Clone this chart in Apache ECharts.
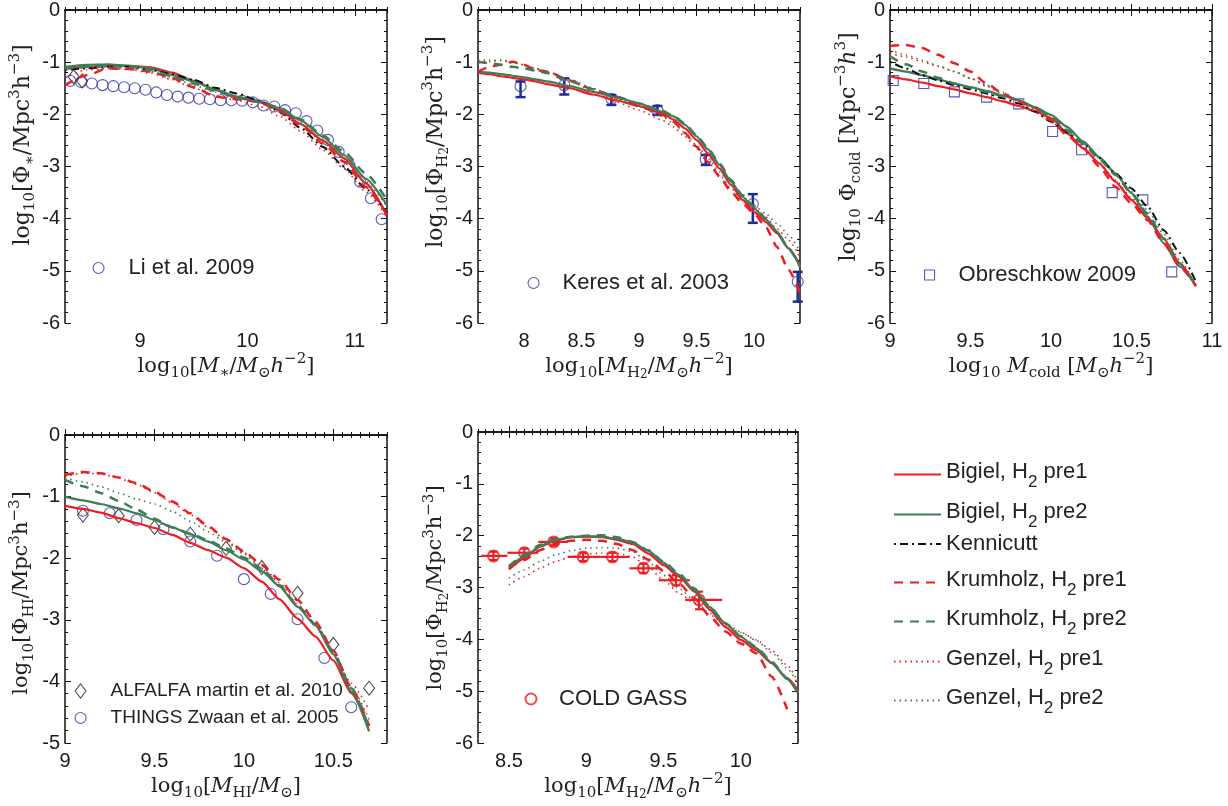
<!DOCTYPE html>
<html><head><meta charset="utf-8">
<script src="https://cdn.jsdelivr.net/npm/echarts@6/dist/echarts.min.js"></script>
<style>html,body{margin:0;padding:0;background:#fff}#c{width:1228px;height:806px}</style>
</head><body><div id="c"></div><script>
// ---------------- data ----------------
const MODEL_NAMES = ['Bigiel, H2 pre1','Bigiel, H2 pre2','Kennicutt','Krumholz, H2 pre1','Krumholz, H2 pre2','Genzel, H2 pre1','Genzel, H2 pre2'];

// Panel 1: stellar mass function
const P1_X = [8.3, 8.5, 8.7, 8.9, 9.1, 9.3, 9.5, 9.7, 9.9, 10.1, 10.3, 10.5, 10.7, 10.9, 11.1, 11.3];
const P1_BIGIEL1 = [-1.12, -1.09, -1.07, -1.07, -1.10, -1.20, -1.36, -1.53, -1.68, -1.76, -1.92, -2.19, -2.50, -2.84, -3.32, -3.93];
const P1_BIGIEL2 = [-1.09, -1.05, -1.04, -1.07, -1.12, -1.25, -1.37, -1.52, -1.66, -1.74, -1.88, -2.12, -2.43, -2.78, -3.23, -3.74];
const P1_KENN    = [-1.15, -1.12, -1.09, -1.09, -1.15, -1.23, -1.34, -1.49, -1.60, -1.73, -1.95, -2.27, -2.62, -3.00, -3.42, -3.90];
const P1_KRUM1   = [-1.44, -1.25, -1.12, -1.13, -1.18, -1.31, -1.48, -1.66, -1.71, -1.76, -1.94, -2.22, -2.56, -2.91, -3.39, -3.93];
const P1_KRUM2   = [-1.12, -1.09, -1.07, -1.09, -1.15, -1.27, -1.41, -1.55, -1.68, -1.76, -1.87, -2.10, -2.40, -2.72, -3.13, -3.64];
const P1_GENZ1   = [-1.28, -1.15, -1.12, -1.14, -1.21, -1.34, -1.50, -1.65, -1.73, -1.84, -2.04, -2.33, -2.68, -3.04, -3.48, -3.96];
const P1_GENZ2   = [-1.12, -1.10, -1.09, -1.11, -1.18, -1.29, -1.44, -1.58, -1.69, -1.78, -1.93, -2.20, -2.52, -2.86, -3.29, -3.77];
const LI_X = [8.35, 8.45, 8.55, 8.65, 8.75, 8.85, 8.95, 9.05, 9.15, 9.25, 9.35, 9.45, 9.55, 9.65, 9.75, 9.85, 9.95, 10.05, 10.15, 10.25, 10.35, 10.45, 10.55, 10.65, 10.75, 10.85, 10.95, 11.05, 11.15, 11.25];
const LI_Y = [-1.36, -1.38, -1.41, -1.44, -1.46, -1.48, -1.50, -1.53, -1.58, -1.63, -1.66, -1.68, -1.70, -1.71, -1.73, -1.73, -1.74, -1.77, -1.83, -1.85, -1.92, -1.98, -2.13, -2.31, -2.49, -2.72, -2.98, -3.29, -3.61, -4.01];
const P1_DIAM_X = [8.38, 8.46];
const P1_DIAM_Y = [-1.28, -1.36];

// Panel 2: H2 mass function (Keres)
const P2_X = [7.6, 7.7, 7.8, 7.9, 8.0, 8.1, 8.2, 8.4, 8.6, 8.8, 9.0, 9.2, 9.3, 9.4, 9.5, 9.6, 9.7, 9.8, 9.9, 10.0, 10.1, 10.2, 10.3, 10.4];
const P2_BIGIEL1 = [-1.20, -1.23, -1.27, -1.30, -1.33, -1.37, -1.42, -1.50, -1.62, -1.73, -1.84, -1.98, -2.10, -2.27, -2.49, -2.75, -3.04, -3.35, -3.64, -3.87, -4.06, -4.28, -4.57, -4.89];
const P2_BIGIEL2 = [-1.18, -1.20, -1.23, -1.26, -1.29, -1.33, -1.37, -1.46, -1.57, -1.67, -1.79, -1.95, -2.04, -2.20, -2.42, -2.67, -2.97, -3.29, -3.58, -3.80, -4.01, -4.25, -4.57, -4.92];
const P2_KRUM1   = [-1.18, -1.09, -1.05, -0.99, -1.05, -1.15, -1.18, -1.35, -1.52, -1.67, -1.84, -2.01, -2.14, -2.36, -2.62, -2.91, -3.19, -3.48, -3.71, -3.90, -4.15, -4.54, -4.98, -5.43];
const P2_KRUM2   = [-0.99, -1.02, -1.05, -1.09, -1.12, -1.16, -1.21, -1.37, -1.52, -1.66, -1.79, -1.93, -2.03, -2.18, -2.40, -2.65, -2.94, -3.26, -3.55, -3.77, -3.99, -4.25, -4.57, -4.92];
const P2_GENZ1   = [-1.02, -0.99, -0.96, -0.99, -1.05, -1.12, -1.18, -1.34, -1.57, -1.76, -1.92, -2.11, -2.24, -2.43, -2.65, -2.91, -3.16, -3.42, -3.64, -3.80, -3.96, -4.19, -4.41, -4.73];
const P2_GENZ2   = [-0.96, -0.96, -0.97, -1.01, -1.05, -1.12, -1.18, -1.33, -1.50, -1.69, -1.85, -2.04, -2.17, -2.36, -2.59, -2.84, -3.10, -3.35, -3.58, -3.74, -3.90, -4.09, -4.31, -4.63];
const KERES_X  = [7.97, 8.35, 8.76, 9.16, 9.58, 9.99, 10.38];
const KERES_Y  = [-1.46, -1.44, -1.70, -1.92, -2.86, -3.72, -5.21];
const KERES_LO = [-1.67, -1.62, -1.82, -2.01, -2.97, -4.08, -5.59];
const KERES_HI = [-1.37, -1.31, -1.63, -1.84, -2.78, -3.53, -5.02];

// Panel 3: cold gas mass function
const P3_X = [9.0, 9.1, 9.2, 9.3, 9.4, 9.5, 9.6, 9.7, 9.8, 9.9, 10.0, 10.1, 10.2, 10.3, 10.4, 10.5, 10.6, 10.7, 10.8, 10.9];
const P3_BIGIEL1 = [-1.27, -1.33, -1.39, -1.46, -1.52, -1.60, -1.67, -1.75, -1.84, -1.94, -2.07, -2.36, -2.65, -2.94, -3.29, -3.64, -3.99, -4.38, -4.86, -5.29];
const P3_BIGIEL2 = [-1.12, -1.18, -1.25, -1.33, -1.41, -1.48, -1.55, -1.64, -1.73, -1.86, -2.01, -2.24, -2.52, -2.82, -3.13, -3.51, -3.96, -4.47, -4.92, -5.29];
const P3_KENN    = [-0.99, -1.12, -1.25, -1.35, -1.44, -1.52, -1.60, -1.69, -1.79, -1.95, -2.14, -2.35, -2.56, -2.84, -3.13, -3.42, -3.77, -4.22, -4.66, -5.21];
const P3_KRUM1   = [-0.69, -0.67, -0.73, -0.86, -1.02, -1.18, -1.41, -1.60, -1.76, -1.88, -2.11, -2.40, -2.65, -3.00, -3.39, -3.71, -4.03, -4.47, -4.92, -5.29];
const P3_KRUM2   = [-0.89, -1.04, -1.18, -1.30, -1.41, -1.49, -1.57, -1.65, -1.73, -1.87, -2.04, -2.30, -2.56, -2.86, -3.16, -3.52, -3.90, -4.38, -4.86, -5.29];
const P3_GENZ1   = [-0.83, -0.90, -0.99, -1.08, -1.18, -1.31, -1.46, -1.61, -1.76, -1.94, -2.14, -2.38, -2.62, -2.94, -3.26, -3.60, -3.96, -4.40, -4.86, -5.29];
const P3_GENZ2   = [-0.77, -0.86, -0.96, -1.07, -1.18, -1.31, -1.44, -1.58, -1.73, -1.90, -2.08, -2.32, -2.56, -2.84, -3.13, -3.48, -3.83, -4.30, -4.79, -5.29];
const OBRESCH_X = [9.02, 9.21, 9.40, 9.60, 9.80, 10.01, 10.19, 10.38, 10.57, 10.75];
const OBRESCH_Y = [-1.35, -1.41, -1.57, -1.67, -1.80, -2.33, -2.68, -3.50, -3.64, -5.02];

// Panel 4: HI mass function
const P4_X = [9.0, 9.1, 9.2, 9.3, 9.4, 9.5, 9.6, 9.7, 9.8, 9.9, 10.0, 10.1, 10.2, 10.3, 10.4, 10.5, 10.6, 10.7];
const P4_BIGIEL1 = [-1.15, -1.20, -1.26, -1.35, -1.43, -1.51, -1.62, -1.75, -1.87, -1.99, -2.16, -2.38, -2.67, -2.98, -3.27, -3.66, -4.19, -4.73];
const P4_BIGIEL2 = [-1.00, -1.06, -1.12, -1.19, -1.27, -1.38, -1.50, -1.61, -1.73, -1.87, -2.02, -2.21, -2.46, -2.79, -3.09, -3.56, -4.16, -4.81];
const P4_KRUM1   = [-0.65, -0.60, -0.62, -0.69, -0.78, -0.92, -1.08, -1.27, -1.48, -1.69, -1.89, -2.11, -2.35, -2.68, -3.03, -3.50, -4.10, -4.72];
const P4_KRUM2   = [-0.73, -0.83, -0.94, -1.07, -1.21, -1.36, -1.50, -1.60, -1.71, -1.84, -1.99, -2.17, -2.44, -2.77, -3.07, -3.52, -4.11, -4.76];
const P4_GENZ1   = [-0.67, -0.62, -0.63, -0.70, -0.80, -0.94, -1.10, -1.29, -1.50, -1.71, -1.91, -2.13, -2.40, -2.75, -3.10, -3.55, -4.03, -4.46];
const P4_GENZ2   = [-0.70, -0.76, -0.84, -0.94, -1.04, -1.12, -1.24, -1.40, -1.57, -1.74, -1.93, -2.17, -2.45, -2.78, -3.08, -3.52, -4.08, -4.62];
const ALFALFA_X = [9.1, 9.3, 9.5, 9.7, 9.9, 10.1, 10.3, 10.5, 10.7];
const ALFALFA_Y = [-1.30, -1.31, -1.50, -1.61, -1.84, -2.15, -2.57, -3.40, -4.11];
const THINGS_X = [9.1, 9.25, 9.4, 9.55, 9.7, 9.85, 10.0, 10.15, 10.3, 10.45, 10.6];
const THINGS_Y = [-1.23, -1.27, -1.38, -1.53, -1.73, -1.96, -2.34, -2.58, -2.99, -3.62, -4.42];

// Panel 5: H2 mass function (COLD GASS)
const P5_X = [8.5, 8.6, 8.7, 8.8, 8.9, 9.0, 9.1, 9.2, 9.3, 9.4, 9.5, 9.6, 9.7, 9.8, 9.9, 10.0, 10.1, 10.2, 10.3, 10.37];
const P5_BIGIEL1 = [-2.65, -2.44, -2.21, -2.10, -2.03, -2.02, -2.03, -2.08, -2.16, -2.34, -2.57, -2.79, -3.08, -3.43, -3.76, -4.01, -4.21, -4.46, -4.75, -4.98];
const P5_BIGIEL2 = [-2.60, -2.41, -2.20, -2.08, -2.03, -2.01, -2.02, -2.06, -2.13, -2.29, -2.52, -2.76, -3.05, -3.38, -3.69, -3.95, -4.17, -4.45, -4.77, -5.04];
const P5_KRUM1   = [-2.63, -2.47, -2.28, -2.16, -2.10, -2.08, -2.10, -2.16, -2.28, -2.46, -2.68, -2.92, -3.21, -3.56, -3.85, -4.08, -4.27, -4.72, -5.35, null];
const P5_KRUM2   = [-2.59, -2.37, -2.18, -2.07, -2.02, -2.00, -1.99, -2.03, -2.12, -2.28, -2.50, -2.73, -3.02, -3.37, -3.69, -3.94, -4.15, -4.43, -4.75, -5.03];
const P5_GENZ1   = [-2.95, -2.79, -2.63, -2.50, -2.41, -2.35, -2.34, -2.34, -2.41, -2.60, -2.86, -3.11, -3.30, -3.53, -3.72, -3.87, -4.01, -4.21, -4.50, -4.82];
const P5_GENZ2   = [-2.82, -2.66, -2.50, -2.37, -2.29, -2.24, -2.23, -2.24, -2.31, -2.50, -2.76, -3.02, -3.25, -3.50, -3.70, -3.86, -4.02, -4.25, -4.56, -4.86];
const CG_X   = [8.40, 8.60, 8.79, 8.98, 9.17, 9.37, 9.58, 9.73];
const CG_Y   = [-2.39, -2.33, -2.12, -2.41, -2.41, -2.63, -2.86, -3.24];
const CG_XLO = [8.32, 8.49, 8.69, 8.88, 9.09, 9.28, 9.47, 9.64];
const CG_XHI = [8.49, 8.69, 8.88, 9.09, 9.28, 9.47, 9.67, 9.88];
const CG_YLO = [-2.47, -2.41, -2.19, -2.49, -2.49, -2.72, -2.96, -3.42];
const CG_YHI = [-2.31, -2.25, -2.05, -2.33, -2.33, -2.54, -2.76, -3.08];

// tick labels
const P1_XTICKS = [9, 10, 11];
const P2_XTICKS = [8, 8.5, 9, 9.5, 10];
const P3_XTICKS = [9, 9.5, 10, 10.5, 11];
const P4_XTICKS = [9, 9.5, 10, 10.5];
const P5_XTICKS = [8.5, 9, 9.5, 10];

// ---------------- styling / layout ----------------
const SANS = 'Liberation Sans, Arial, Helvetica, sans-serif';
const SERIF = 'DejaVu Serif, Liberation Serif, serif';
const RED = '#ee1d23', GREEN = '#3f7c57', BLACK = '#111111', BLUE = '#2f2fa6';
const MODEL_STYLES = [
  {color: RED, width: 2.2, type: 'solid'},
  {color: GREEN, width: 2.2, type: 'solid'},
  {color: BLACK, width: 2, type: [2, 4, 8, 4]},
  {color: RED, width: 2.5, type: [9, 7]},
  {color: GREEN, width: 2.5, type: [9, 7]},
  {color: RED, width: 1.6, type: [1.5, 4]},
  {color: GREEN, width: 1.6, type: [1.5, 4]}
];

function mkRich(fs, key) {
  const sf = Math.round(fs * 0.7), c = '#222';
  const base = {fontFamily: SERIF};
  const col = {}; col[key] = c;
  return {
    n: Object.assign({fontSize: fs, lineHeight: fs + 8}, base, col),
    i: Object.assign({fontSize: fs, fontStyle: 'italic', lineHeight: fs + 8}, base, col),
    s: Object.assign({fontSize: sf, verticalAlign: 'bottom', lineHeight: sf}, base, col),
    ss: Object.assign({fontSize: Math.round(fs * 0.55), verticalAlign: 'bottom', lineHeight: 6}, base, col),
    p: Object.assign({fontSize: sf, verticalAlign: 'top', lineHeight: sf}, base, col)
  };
}
const XN_STAR = '{n|log}{s|10}{n|[}{i|M}{s|∗}{n|/}{i|M}{s|⊙}{i|h}{p|−2}{n|]}';
const YN_STAR = '{n|log}{s|10}{n|[Φ}{s|∗}{n|/Mpc}{p|3}{n|h}{p|−3}{n|]}';
const XN_H2 = '{n|log}{s|10}{n|[}{i|M}{s|H}{ss|2}{n|/}{i|M}{s|⊙}{i|h}{p|−2}{n|]}';
const YN_H2 = '{n|log}{s|10}{n|[Φ}{s|H}{ss|2}{n|/Mpc}{p|3}{n|h}{p|−3}{n|]}';
const XN_COLD = '{n|log}{s|10}{i| M}{s|cold}{n| [}{i|M}{s|⊙}{i|h}{p|−2}{n|]}';
const YN_COLD = '{n|log}{s|10}{n| Φ}{s|cold}{n| [Mpc}{p|−3}{i|h}{p|3}{n|]}';
const XN_HI = '{n|log}{s|10}{n|[}{i|M}{s|HI}{n|/}{i|M}{s|⊙}{n|]}';
const YN_HI = '{n|log}{s|10}{n|[Φ}{s|HI}{n|/Mpc}{p|3}{n|h}{p|−3}{n|]}';

function steps(a, b, s) {
  const out = []; const n = Math.round((b - a) / s);
  for (let k = 0; k <= n; k++) out.push(+(a + k * s).toFixed(4));
  return out;
}

const PANELS = [
  {grid: {left: 65, top: 10, width: 322, height: 313}, xMin: 8.3, xMax: 11.3, xTicks: P1_XTICKS, xMinor: 0.1, yMin: -6,
   xName: XN_STAR, yName: YN_STAR, yNamePos: [23, 145], yFs: 22, x: P1_X,
   models: [P1_BIGIEL1, P1_BIGIEL2, P1_KENN, P1_KRUM1, P1_KRUM2, P1_GENZ1, P1_GENZ2]},
  {grid: {left: 478, top: 10, width: 322, height: 313}, xMin: 7.6, xMax: 10.4, xTicks: P2_XTICKS, xMinor: 0.1, yMin: -6,
   xName: XN_H2, yName: YN_H2, yNamePos: [436, 142], yFs: 22, x: P2_X,
   models: [P2_BIGIEL1, P2_BIGIEL2, null, P2_KRUM1, P2_KRUM2, P2_GENZ1, P2_GENZ2]},
  {grid: {left: 890, top: 10, width: 322, height: 313}, xMin: 9, xMax: 11, xTicks: P3_XTICKS, xMinor: 0.05, yMin: -6,
   xName: XN_COLD, yName: YN_COLD, yNamePos: [849, 147], yFs: 22, x: P3_X,
   models: [P3_BIGIEL1, P3_BIGIEL2, P3_KENN, P3_KRUM1, P3_KRUM2, P3_GENZ1, P3_GENZ2]},
  {grid: {left: 65, top: 435, width: 322, height: 308}, xMin: 9, xMax: 10.8, xTicks: P4_XTICKS, xMinor: 0.05, yMin: -5,
   xName: XN_HI, yName: YN_HI, yNamePos: [22, 593], yFs: 21, x: P4_X,
   models: [P4_BIGIEL1, P4_BIGIEL2, null, P4_KRUM1, P4_KRUM2, P4_GENZ1, P4_GENZ2]},
  {grid: {left: 478, top: 432, width: 320, height: 311}, xMin: 8.3, xMax: 10.37, xTicks: P5_XTICKS, xMinor: 0.05, yMin: -6,
   xName: XN_H2, yName: YN_H2, yNamePos: [436, 588], yFs: 21, x: P5_X,
   models: [P5_BIGIEL1, P5_BIGIEL2, null, P5_KRUM1, P5_KRUM2, P5_GENZ1, P5_GENZ2]}
];

const grids = [], xAxes = [], yAxes = [], series = [], graphics = [];
const AXIS_LINE = {show: true, lineStyle: {color: '#111', width: 1.5}};
const LABEL = {color: '#1a1a1a', fontFamily: SANS, fontSize: 20};
const X_RICH = mkRich(21, 'color');

PANELS.forEach((P, p) => {
  grids.push(Object.assign({containLabel: false}, P.grid));
  xAxes.push({type: 'value', gridIndex: p, position: 'bottom', min: P.xMin, max: P.xMax,
    axisLine: AXIS_LINE, splitLine: {show: false},
    axisTick: {inside: true, length: 6, customValues: P.xTicks, lineStyle: {color: '#111', width: 1}},
    axisLabel: Object.assign({customValues: P.xTicks, margin: 8}, LABEL),
    name: P.xName, nameLocation: 'middle', nameGap: 29, nameTextStyle: {rich: X_RICH}});
  xAxes.push({type: 'value', gridIndex: p, position: 'top', min: P.xMin, max: P.xMax,
    axisLine: AXIS_LINE, splitLine: {show: false},
    axisTick: {inside: true, length: 6, customValues: P.xTicks, lineStyle: {color: '#111', width: 1}},
    axisLabel: {show: false}});
  const yCommon = {type: 'value', gridIndex: p, min: P.yMin, max: 0, interval: 1,
    axisLine: AXIS_LINE, splitLine: {show: false},
    axisTick: {inside: true, length: 6, lineStyle: {color: '#111', width: 1}},
    minorTick: {show: true, splitNumber: 5, length: 3, lineStyle: {color: '#111', width: 1}},
    minorSplitLine: {show: false}};
  yAxes.push(Object.assign({}, yCommon, {position: 'left', axisLabel: Object.assign({margin: 5}, LABEL)}));
  yAxes.push(Object.assign({}, yCommon, {position: 'right', axisLabel: {show: false}}));

  // y-axis title as rotated text
  graphics.push({type: 'text', x: P.yNamePos[0], y: P.yNamePos[1], rotation: Math.PI / 2, silent: true,
    style: {text: P.yName, rich: mkRich(P.yFs, 'fill'), align: 'center', verticalAlign: 'middle', fill: '#222'}});

  P.models.forEach((ys, k) => {
    if (!ys) return;
    const st = MODEL_STYLES[k];
    series.push({type: 'line', name: MODEL_NAMES[k], xAxisIndex: 2 * p, yAxisIndex: 2 * p,
      data: P.x.map((v, i) => [v, ys[i]]), symbol: 'none', showSymbol: false,
      smooth: 0.2, smoothMonotone: 'x', silent: true,
      lineStyle: {color: st.color, width: st.width, type: st.type}, itemStyle: {color: st.color}});
  });
});
// overlay grids carrying the minor x ticks
PANELS.forEach((P, p) => {
  grids.push(Object.assign({containLabel: false}, P.grid));
  const gi = PANELS.length + p;
  const minors = steps(P.xMin, P.xMax, P.xMinor);
  ['bottom', 'top'].forEach(pos => xAxes.push({type: 'value', gridIndex: gi, position: pos, min: P.xMin, max: P.xMax,
    axisLine: {show: false}, splitLine: {show: false}, axisLabel: {show: false},
    axisTick: {inside: true, length: 3, customValues: minors, lineStyle: {color: '#111', width: 1}}}));
  yAxes.push({type: 'value', gridIndex: gi, min: P.yMin, max: 0, show: false});
});

function xy(xs, ys) { return xs.map((v, i) => [v, ys[i]]); }
const hollow = (c, w) => ({color: 'transparent', borderColor: c, borderWidth: w});

// panel 1 observations
series.push({type: 'scatter', name: 'p1diamonds', xAxisIndex: 0, yAxisIndex: 0, data: xy(P1_DIAM_X, P1_DIAM_Y),
  symbol: 'diamond', symbolSize: [11, 14], itemStyle: hollow('#222', 1.1), silent: true});
series.push({type: 'scatter', name: 'Li et al. 2009', xAxisIndex: 0, yAxisIndex: 0, data: xy(LI_X, LI_Y),
  symbol: 'circle', symbolSize: 11, itemStyle: hollow(BLUE, 1.1), silent: true});
// panel 2
series.push({type: 'custom', xAxisIndex: 2, yAxisIndex: 2, silent: true,
  data: KERES_X.map((x, i) => [x, KERES_Y[i], KERES_LO[i], KERES_HI[i]]), encode: {x: 0, y: [1, 2, 3]},
  renderItem: function (params, api) {
    const x = api.value(0), a = api.coord([x, api.value(2)]), b = api.coord([x, api.value(3)]);
    const st = {stroke: '#1f2b95', lineWidth: 2.5}; const c = 5;
    return {type: 'group', children: [
      {type: 'line', shape: {x1: a[0], y1: a[1], x2: b[0], y2: b[1]}, style: st},
      {type: 'line', shape: {x1: a[0] - c, y1: a[1], x2: a[0] + c, y2: a[1]}, style: st},
      {type: 'line', shape: {x1: b[0] - c, y1: b[1], x2: b[0] + c, y2: b[1]}, style: st}]};
  }});
series.push({type: 'scatter', name: 'Keres et al. 2003', xAxisIndex: 2, yAxisIndex: 2, data: xy(KERES_X, KERES_Y),
  symbol: 'circle', symbolSize: 11, itemStyle: hollow(BLUE, 1.1), silent: true});
// panel 3
series.push({type: 'scatter', name: 'Obreschkow 2009', xAxisIndex: 4, yAxisIndex: 4, data: xy(OBRESCH_X, OBRESCH_Y),
  symbol: 'rect', symbolSize: 10, itemStyle: hollow(BLUE, 1.1), silent: true});
// panel 4
series.push({type: 'scatter', name: 'ALFALFA martin et al. 2010', xAxisIndex: 6, yAxisIndex: 6, data: xy(ALFALFA_X, ALFALFA_Y),
  symbol: 'diamond', symbolSize: [11, 14], itemStyle: hollow('#222', 1.1), silent: true});
series.push({type: 'scatter', name: 'THINGS Zwaan et al. 2005', xAxisIndex: 6, yAxisIndex: 6, data: xy(THINGS_X, THINGS_Y),
  symbol: 'circle', symbolSize: 11, itemStyle: hollow(BLUE, 1.1), silent: true});
// panel 5
series.push({type: 'custom', xAxisIndex: 8, yAxisIndex: 8, silent: true,
  data: CG_X.map((x, i) => [x, CG_Y[i], CG_XLO[i], CG_XHI[i], CG_YLO[i], CG_YHI[i]]), encode: {x: [0, 2, 3], y: [1, 4, 5]},
  renderItem: function (params, api) {
    const x = api.value(0), y = api.value(1);
    const l = api.coord([api.value(2), y]), r = api.coord([api.value(3), y]);
    const lo = api.coord([x, api.value(4)]), hi = api.coord([x, api.value(5)]);
    const st = {stroke: RED, lineWidth: 2.2}; const c = 4;
    return {type: 'group', children: [
      {type: 'line', shape: {x1: l[0], y1: l[1], x2: r[0], y2: r[1]}, style: st},
      {type: 'line', shape: {x1: lo[0], y1: lo[1], x2: hi[0], y2: hi[1]}, style: st},
      {type: 'line', shape: {x1: lo[0] - c, y1: lo[1], x2: lo[0] + c, y2: lo[1]}, style: st},
      {type: 'line', shape: {x1: hi[0] - c, y1: hi[1], x2: hi[0] + c, y2: hi[1]}, style: st}]};
  }});
series.push({type: 'scatter', name: 'COLD GASS', xAxisIndex: 8, yAxisIndex: 8, data: xy(CG_X, CG_Y),
  symbol: 'circle', symbolSize: 11, itemStyle: hollow(RED, 2), silent: true});

// ---------------- legends ----------------
const legends = [];
const MAIN_LEG_Y = [471, 511, 546, 579, 618, 658, 697];
MODEL_NAMES.forEach((nm, k) => {
  legends.push({data: [nm], left: 893, top: MAIN_LEG_Y[k] - 13, padding: 0, itemWidth: 47, itemHeight: 14,
    selectedMode: false, itemStyle: {opacity: 0},
    formatter: n => n.indexOf('H2') >= 0 ? '{a|' + n.replace('H2', 'H}{b|2}{a|') + '}' : '{k|' + n + '}',
    textStyle: {rich: {
      a: {fontFamily: SANS, fontSize: 22, lineHeight: 26, padding: [0, 0, 6, 0], color: '#222'},
      b: {fontFamily: SANS, fontSize: 17, lineHeight: 26, padding: [16, 0, 0, 0], color: '#222'},
      k: {fontFamily: SANS, fontSize: 22, lineHeight: 26, color: '#222'}}}});
});
function obsLegend(name, cx, cy, textLeft, fontSize, bw, iw, ih) {
  const lh = fontSize + 2;
  const left = cx - iw / 2;
  const pad = textLeft - (left + iw + 5);
  return {data: [name], left: left, top: cy - Math.max(lh, ih) / 2, padding: 0, itemWidth: iw, itemHeight: ih,
    selectedMode: false, itemStyle: {borderWidth: bw},
    textStyle: {fontFamily: SANS, fontSize: fontSize, lineHeight: lh, color: '#222', padding: [0, 0, 0, pad]}};
}
legends.push(obsLegend('Li et al. 2009', 98, 268, 128, 22, 1.1, 11, 11));
legends.push(obsLegend('Keres et al. 2003', 533, 283, 562, 22, 1.1, 11, 11));
legends.push(obsLegend('Obreschkow 2009', 929, 275, 958, 22, 1.1, 10, 10));
legends.push(obsLegend('ALFALFA martin et al. 2010', 80, 691, 110, 19, 1.1, 11, 14));
legends.push(obsLegend('THINGS Zwaan et al. 2005', 80, 718, 110, 19, 1.1, 11, 11));
legends.push(obsLegend('COLD GASS', 530, 699, 558, 22, 2, 11, 11));

const chart = echarts.init(document.getElementById('c'), null, {renderer: 'canvas'});
chart.setOption({
  animation: false,
  backgroundColor: '#ffffff',
  grid: grids, xAxis: xAxes, yAxis: yAxes, legend: legends, series: series, graphic: graphics
});
</script></body></html>
